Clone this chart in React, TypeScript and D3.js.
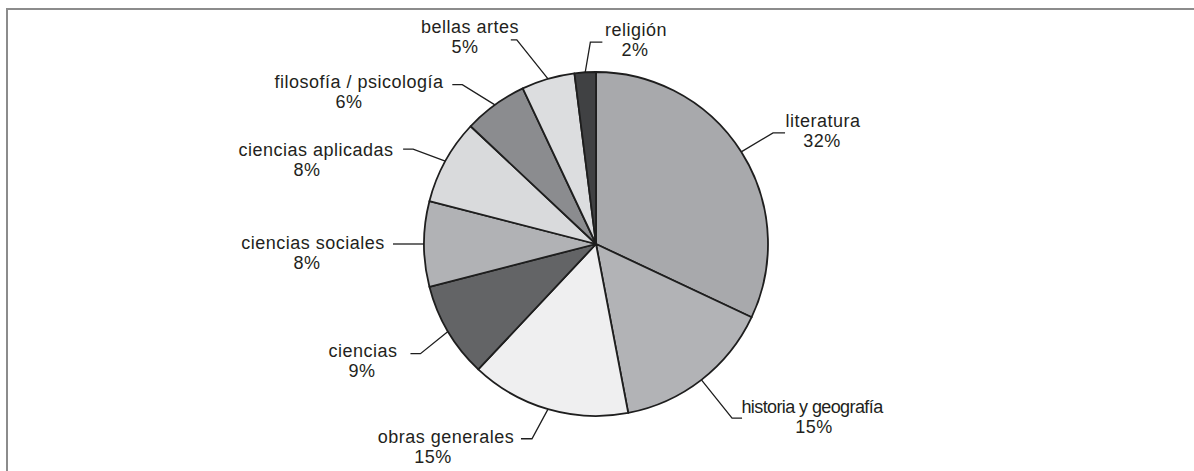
import React from "react";
import * as d3 from "d3";

const categories = [
  "literatura",
  "historia y geografía",
  "obras generales",
  "ciencias",
  "ciencias sociales",
  "ciencias aplicadas",
  "filosofía / psicología",
  "bellas artes",
  "religión",
];
const values = [32, 15, 15, 9, 8, 8, 6, 5, 2];
const percentLabels = ["32%", "15%", "15%", "9%", "8%", "8%", "6%", "5%", "2%"];
const colors = [
  "#a8a9ac",
  "#b2b3b6",
  "#efeff0",
  "#636466",
  "#b1b2b5",
  "#d9dadc",
  "#8b8c8f",
  "#dcdddf",
  "#404143",
];

// label layout: leader extension, angle nudge (deg), horizontal tick length (signed),
// text centre x for line 1 and line 2, baseline of line 1, letter spacing
const labelLayout = [
  { ext: 37, nudge: 0.3, tick: 12, x1: 823, x2: 822, y: 127, ls: 0.5 },
  { ext: 49, nudge: -0.2, tick: 10, x1: 812, x2: 814, y: 413, ls: -0.6 },
  { ext: 33, nudge: 2, tick: -11, x1: 446, x2: 433, y: 443, ls: 0.5 },
  { ext: 35, nudge: -1.4, tick: -10, x1: 363, x2: 362, y: 357, ls: 0.5 },
  { ext: 0, nudge: 0, tick: -31, x1: 313, x2: 307, y: 249, ls: 0.5 },
  { ext: 34, nudge: -1.4, tick: -10, x1: 316, x2: 307, y: 156, ls: 0.5 },
  { ext: 36, nudge: -4, tick: -10, x1: 359, x2: 349, y: 88, ls: 0.5 },
  { ext: 47, nudge: -5, tick: -6, x1: 470, x2: 465, y: 33, ls: 0.5 },
  { ext: 30, nudge: 2, tick: 12, x1: 636, x2: 635, y: 36, ls: 0.5 },
];

const W = 1194;
const H = 471;
const cx = 596;
const cy = 244;
const R = 172;

export default function App() {
  const pie = d3.pie<number>().sort(null).value((d) => d);
  const arcs = pie(values);
  const arcGen = d3.arc<d3.PieArcDatum<number>>().innerRadius(0).outerRadius(R);

  return (
    <svg
      width={W}
      height={H}
      style={{ position: "absolute", left: 0, top: 0, background: "#fff" }}
      fontFamily="'Liberation Sans', Arial, sans-serif"
    >
      <line x1={6} y1={9} x2={W} y2={9} stroke="#8c8c8c" strokeWidth={2} />
      <line x1={7} y1={8} x2={7} y2={H} stroke="#8c8c8c" strokeWidth={2} />
      <g transform={`translate(${cx},${cy})`}>
        {arcs.map((a, i) => (
          <path
            key={i}
            d={arcGen(a) || ""}
            fill={colors[i]}
            stroke="#1e1e1e"
            strokeWidth={1.8}
            strokeLinejoin="round"
          />
        ))}
      </g>
      {arcs.map((a, i) => {
        const L = labelLayout[i];
        const mid = (a.startAngle + a.endAngle) / 2;
        const midN = mid + (L.nudge * Math.PI) / 180;
        const px = cx + R * Math.sin(mid);
        const py = cy - R * Math.cos(mid);
        const ex = cx + (R + L.ext) * Math.sin(midN);
        const ey = cy - (R + L.ext) * Math.cos(midN);
        const tx = ex + L.tick;
        return (
          <g key={i}>
            <polyline
              points={`${px},${py} ${ex},${ey} ${tx},${ey}`}
              fill="none"
              stroke="#1e1e1e"
              strokeWidth={1.3}
            />
            <text
              x={L.x1}
              y={L.y}
              textAnchor="middle"
              fontSize={18}
              letterSpacing={L.ls}
              fill="#231f20"
            >
              {categories[i]}
            </text>
            <text
              x={L.x2}
              y={L.y + 20}
              textAnchor="middle"
              fontSize={18}
              letterSpacing={0.5}
              fill="#231f20"
            >
              {percentLabels[i]}
            </text>
          </g>
        );
      })}
    </svg>
  );
}
